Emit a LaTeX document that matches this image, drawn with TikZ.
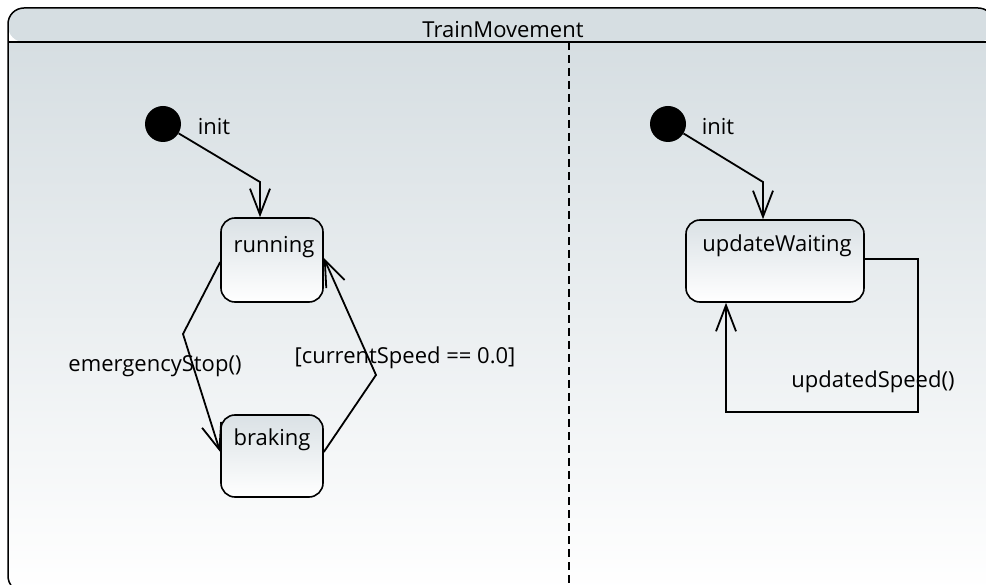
\documentclass[tikz,border=0pt]{standalone}
\usepackage{fontspec}
\setmainfont{Open Sans}
\usetikzlibrary{arrows.meta}

\definecolor{regionTop}{RGB}{214,222,226}
\definecolor{stateTop}{RGB}{218,225,229}

\tikzset{
  state/.style={draw, line width=1.6pt, rounded corners=14pt, top color=stateTop,
    bottom color=white, minimum width=102pt, minimum height=84pt,
    inner sep=0pt},
  pseudo/.style={circle, fill=black, minimum size=36pt, inner sep=0pt},
  trans/.style={line width=1.8pt, -{Straight Barb[length=26pt,width=20pt,line width=1.8pt]}},
  lbl/.style={font=\fontsize{22}{26}\selectfont, inner sep=0pt, anchor=base}
}

\begin{document}
\begin{tikzpicture}[x=1pt, y=-1pt]
\useasboundingbox (0,0) rectangle (986,585);
\clip (0,0) rectangle (986,585);

%% Region %%%%%%%%%%%%%%%%%%%%%%%%%%%%%%%%%%%%%%%%
\shade[top color=regionTop, bottom color=white] (8,42) rectangle (994,592);
\fill[regionTop, rounded corners=16pt] (8,42) -- (8,8) -- (994,8) -- (994,42) -- cycle;
\draw[line width=1.5pt, rounded corners=16pt] (8,8) rectangle (994,592);
\draw[line width=1.5pt] (8,42) -- (994,42);
\node[lbl] (title) at (503,38) {TrainMovement};
\draw[line width=1.4pt, dash pattern=on 8pt off 5pt] (569,42) -- (569,592);

%% Left half %%%%%%%%%%%%%%%%%%%%%%%%%%%%%%%%%%%%%
\node[pseudo] (initA) at (163,124) {};
\node[lbl] (initAtxt) at (214,135) {init};

\node[state] (running) at (272,260) {};
\node[lbl] (runningtxt) at (274,253) {running};

\node[state, minimum height=82pt] (braking) at (272,456) {};
\node[lbl] (brakingtxt) at (272,446) {braking};

\coordinate (bendA) at (260,182);
\coordinate (bendRun) at (183,334);
\coordinate (bendBrk) at (376,375);

\draw[trans] (initA) -- (bendA) -- (bendA |- running.north);
\draw[trans] (running.west |- 0,262) -- (bendRun) -- (braking.west |- 0,452);
\draw[trans] (braking.east |- 0,452) -- (bendBrk) -- (running.east |- 0,258);

\node[lbl] (evStop) at (155,372) {emergencyStop()};
\node[lbl] (grdSpeed) at (405,364) {[currentSpeed == 0.0]};

%% Right half %%%%%%%%%%%%%%%%%%%%%%%%%%%%%%%%%%%%
\node[pseudo] (initB) at (668,124) {};
\node[lbl] (initBtxt) at (718,135) {init};

\node[state, minimum width=178pt, minimum height=82pt] (waiting) at (775,261) {};
\node[lbl] (waitingtxt) at (777,252) {updateWaiting};

\coordinate (bendB) at (763,182);
\coordinate (loopA) at (918,259);
\coordinate (loopB) at (918,412);
\coordinate (loopC) at (726,412);

\draw[trans] (initB) -- (bendB) -- (bendB |- waiting.north);
\draw[trans] (waiting.east |- loopA) -- (loopA) -- (loopB) -- (loopC) -- (loopC |- waiting.south);

\node[lbl] (evUpd) at (873,388) {updatedSpeed()};

\end{tikzpicture}
\end{document}
